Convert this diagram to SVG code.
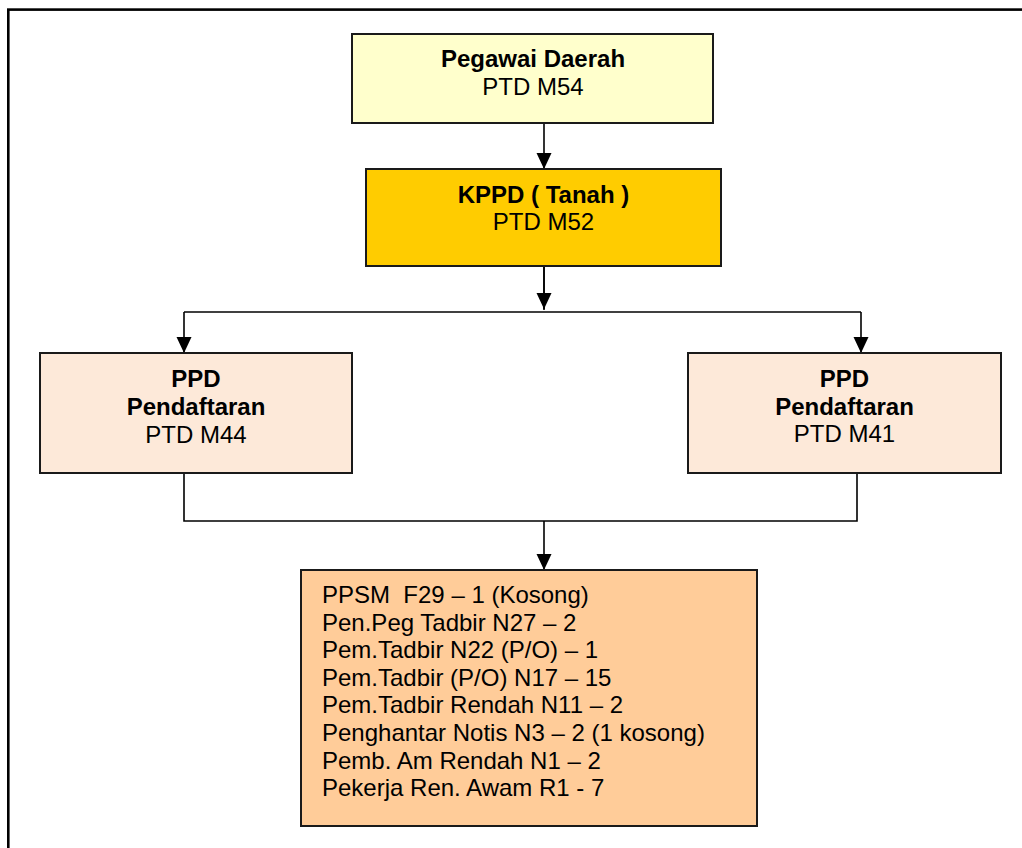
<svg xmlns="http://www.w3.org/2000/svg" width="1022" height="848" viewBox="0 0 1022 848">
  <style>
    .box { stroke: #1a1a1a; stroke-width: 2; }
    .t { font-family: "Liberation Sans", Arial, sans-serif; font-size: 24px; fill: #000; }
    .c { text-anchor: middle; }
    .b { font-weight: bold; }
    .wire { fill: none; stroke: #000; stroke-width: 1.6; }
  </style>
  <defs>
    <marker id="arrow" markerUnits="userSpaceOnUse" markerWidth="16" markerHeight="18" refX="16" refY="7.5" orient="auto">
      <path d="M0,0 L16,7.5 L0,15 Z" fill="#000"/>
    </marker>
  </defs>

  <!-- outer frame (runs off the right and bottom edges) -->
  <rect x="8.3" y="9.6" width="1040" height="860" fill="#fff" stroke="#000" stroke-width="2.6"/>

  <!-- connectors -->
  <g id="connectors">
    <path class="wire" d="M544,123 V169" marker-end="url(#arrow)"/>
    <path class="wire" d="M544,266 V310"/>
    <path class="wire" d="M544,266 V309" marker-end="url(#arrow)"/>
    <path class="wire" d="M184,312 H861"/>
    <path class="wire" d="M184,312 V353" marker-end="url(#arrow)"/>
    <path class="wire" d="M861,312 V353" marker-end="url(#arrow)"/>
    <path class="wire" d="M184,473 V521 H857 V473"/>
    <path class="wire" d="M544,521 V570" marker-end="url(#arrow)"/>
  </g>

  <g id="pegawai-daerah">
    <rect class="box" x="352" y="34" width="361" height="89" fill="#FFFFCC"/>
    <text class="t c b" x="533" y="66.7">Pegawai Daerah</text>
    <text class="t c" x="533" y="95">PTD M54</text>
  </g>

  <g id="kppd-tanah">
    <rect class="box" x="366" y="169" width="355" height="97" fill="#FFCC00"/>
    <text class="t c b" x="543.5" y="203">KPPD ( Tanah )</text>
    <text class="t c" x="543.5" y="230">PTD M52</text>
  </g>

  <g id="ppd-pendaftaran-m44">
    <rect class="box" x="40" y="353" width="312" height="120" fill="#FDE9D9"/>
    <text class="t c b" x="196" y="386.7">PPD</text>
    <text class="t c b" x="196" y="415">Pendaftaran</text>
    <text class="t c" x="196" y="442.7">PTD M44</text>
  </g>

  <g id="ppd-pendaftaran-m41">
    <rect class="box" x="688" y="353" width="313" height="120" fill="#FDE9D9"/>
    <text class="t c b" x="844.5" y="386.7">PPD</text>
    <text class="t c b" x="844.5" y="414.5">Pendaftaran</text>
    <text class="t c" x="844.5" y="442">PTD M41</text>
  </g>

  <g id="staff-list">
    <rect class="box" x="301" y="570" width="456" height="256" fill="#FFCC99"/>
    <text class="t" x="322" y="602.7" xml:space="preserve">PPSM  F29 – 1 (Kosong)</text>
    <text class="t" x="322" y="630.5">Pen.Peg Tadbir N27 – 2</text>
    <text class="t" x="322" y="658">Pem.Tadbir N22 (P/O) – 1</text>
    <text class="t" x="322" y="685.7">Pem.Tadbir (P/O) N17 – 15</text>
    <text class="t" x="322" y="713.3">Pem.Tadbir Rendah N11 – 2</text>
    <text class="t" x="322" y="741">Penghantar Notis N3 – 2 (1 kosong)</text>
    <text class="t" x="322" y="768.7">Pemb. Am Rendah N1 – 2</text>
    <text class="t" x="322" y="796">Pekerja Ren. Awam R1 - 7</text>
  </g>
</svg>
